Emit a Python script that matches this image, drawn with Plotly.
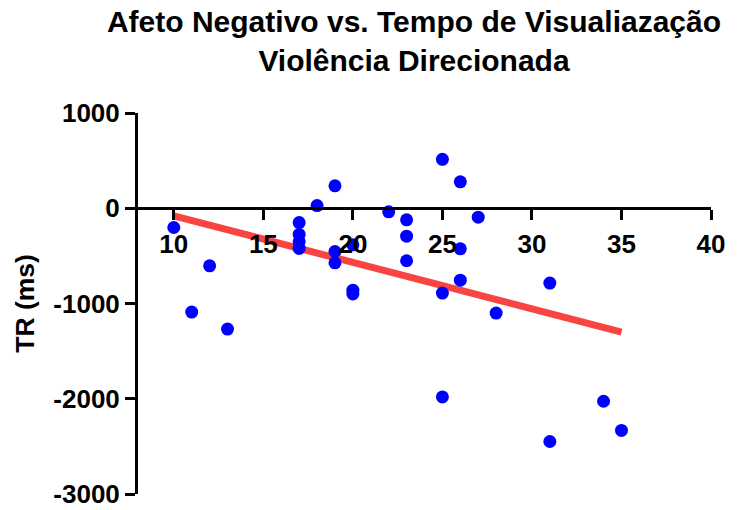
import plotly.graph_objects as go

# Data
afeto = [10, 11, 12, 13, 17, 17, 17, 17, 18, 19, 19, 19, 20, 20, 20,
         22, 23, 23, 23, 25, 25, 25, 26, 26, 26, 27, 28, 31, 31, 34, 35]
tr_ms = [-202, -1090, -604, -1268, -150, -275, -350, -422, 28, 235, -454, -573,
         -384, -860, -900, -38, -122, -293, -551, 514, -891, -1981, 277, -426,
         -755, -94, -1101, -786, -2449, -2026, -2333]

# Linear regression line endpoints (as drawn in the reference)
fit_x = [10, 35]
fit_y = [-80, -1300]

x_ticks = [10, 15, 20, 25, 30, 35, 40]
y_ticks = [-3000, -2000, -1000, 0, 1000]

FONT = "Arial, Liberation Sans, sans-serif"

fig = go.Figure()
fig.add_trace(go.Scatter(
    x=fit_x, y=fit_y, mode="lines",
    line=dict(color="rgb(250,68,68)", width=7),
    showlegend=False, hoverinfo="skip",
))
fig.add_trace(go.Scatter(
    x=afeto, y=tr_ms, mode="markers",
    marker=dict(color="#0000FF", size=13, line=dict(width=0)),
    showlegend=False,
))

fig.update_layout(
    width=739, height=510,
    margin=dict(l=138, r=28, t=113, b=16),
    paper_bgcolor="white", plot_bgcolor="white",
    font=dict(family=FONT, color="black"),
    title=dict(
        text="Afeto Negativo vs. Tempo de Visualiazação<br>Violência Direcionada",
        font=dict(family=FONT, size=30, color="black", weight="bold"),
        x=414 / 739, xanchor="center", xref="container",
        y=1 - 32 / 510, yanchor="top", yref="container",
    ),
    xaxis=dict(
        range=[8, 40], tickvals=x_ticks, ticktext=[str(v) for v in x_ticks],
        anchor="free", position=0.75, automargin=False,
        showline=True, linecolor="black", linewidth=3,
        ticks="outside", ticklen=10, tickwidth=3, tickcolor="black",
        tickfont=dict(family=FONT, size=26, color="black", weight="bold"),
        ticklabelstandoff=2, ticklabeloverflow="allow",
        showgrid=False, zeroline=False,
    ),
    yaxis=dict(
        range=[-3000, 1000], tickvals=y_ticks, ticktext=[str(v) for v in y_ticks],
        automargin=False,
        showline=True, linecolor="black", linewidth=3,
        ticks="outside", ticklen=10, tickwidth=3, tickcolor="black",
        tickfont=dict(family=FONT, size=26, color="black", weight="bold"),
        ticklabeloverflow="allow",
        title=dict(text="TR (ms)", standoff=12,
                   font=dict(family=FONT, size=26.5, color="black", weight="bold")),
        showgrid=False, zeroline=False,
    ),
)

fig.write_html("out.html")
